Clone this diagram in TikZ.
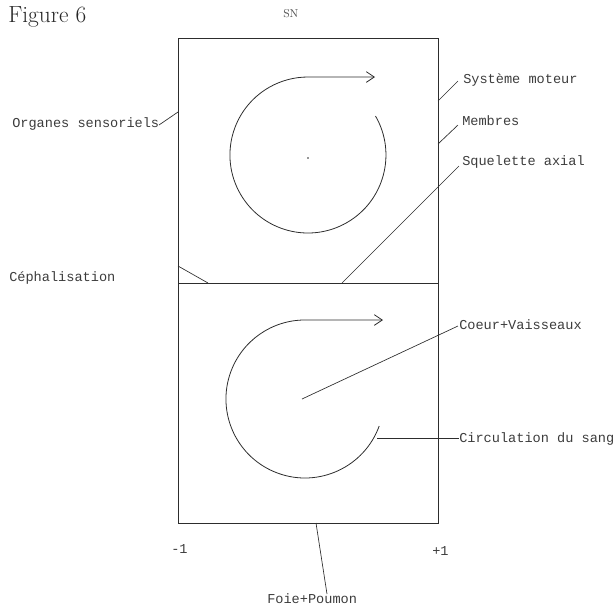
\documentclass[tikz,border=0pt]{standalone}
\usepackage{fontspec}
\newfontfamily\monof{Liberation Mono}
\usetikzlibrary{arrows.meta}
\definecolor{ink}{RGB}{45,45,45}
\definecolor{txt}{RGB}{60,60,60}
\begin{document}
\begin{tikzpicture}[x=0.75pt,y=-0.75pt,
  lbl/.style={font=\monof\fontsize{10.2}{12}\selectfont, text=txt, inner sep=0pt, anchor=base west},
  lead/.style={draw=ink, line width=0.5pt},
  boxline/.style={draw=ink, line width=0.75pt},
  curve/.style={draw=ink, line width=0.6pt},
  tip/.style={-{Straight Barb[length=6pt,width=8pt,line width=0.6pt]}}
  ]
\useasboundingbox (0,0) rectangle (615,608);

% titles
\node[inner sep=0pt, anchor=base west, font=\fontsize{17.5}{21}\selectfont, text=black!85] (fig) at (8,22) {Figure 6};
\node[inner sep=0pt, anchor=base west, font=\fontsize{8.5}{10}\selectfont, text=black!70] (sn) at (283,17) {SN};

% boxes
\coordinate (tl) at (178,38);
\coordinate (br) at (438,523);
\coordinate (ml) at (178,283);
\coordinate (mr) at (438,283);
\draw[boxline] (tl) rectangle (br);
\draw[boxline] (ml) -- (mr);

% cephalisation corner
\coordinate (c1) at (178,266);
\coordinate (c2) at (208,283);
\draw[lead] (c1) -- (c2);

% upper circle with arrow
\coordinate (ucs) at (375.5,116);
\coordinate (uce) at (375,77);
\draw[curve, tip] (ucs) arc[start angle=30, end angle=-270, radius=58.5pt] -- (uce);
\fill[ink] (308,158) circle (0.6pt);

% lower circle with arrow
\coordinate (lcs) at (379.2,426);
\coordinate (lce) at (383,320);
\draw[curve, tip] (lcs) arc[start angle=-20, end angle=-270, radius=59.25pt] -- (lce);

% labels
\node[lbl] (org) at (12,127) {Organes sensoriels};
\node[lbl] (ceph) at (9,281) {Céphalisation};
\node[lbl] (sys) at (463,83) {Système moteur};
\node[lbl] (mem) at (462,125) {Membres};
\node[lbl] (sq) at (462,165) {Squelette axial};
\node[lbl] (coe) at (459,329) {Coeur+Vaisseaux};
\node[lbl] (circ) at (459,442) {Circulation du sang};
\node[lbl] (m1) at (171,553) {-1};
\node[lbl] (p1) at (432,555) {+1};
\node[lbl] (foie) at (267,603) {Foie+Poumon};

% leaders
\coordinate (orgA) at (159,125);
\coordinate (orgB) at (178,112);
\draw[lead] (orgA) -- (orgB);
\coordinate (sysA) at (438,101);
\coordinate (sysB) at (458,81);
\draw[lead] (sysA) -- (sysB);
\coordinate (memA) at (438,144);
\coordinate (memB) at (458,125);
\draw[lead] (memA) -- (memB);
\coordinate (sqA) at (342,283);
\coordinate (sqB) at (459,166);
\draw[lead] (sqA) -- (sqB);
\coordinate (coA) at (302,399);
\coordinate (coB) at (458,326);
\draw[lead] (coA) -- (coB);
\coordinate (ciA) at (377,438);
\coordinate (ciB) at (459,438);
\draw[lead] (ciA) -- (ciB);
\coordinate (foA) at (316,523);
\coordinate (foB) at (327,594);
\draw[lead] (foA) -- (foB);
\end{tikzpicture}
\end{document}
